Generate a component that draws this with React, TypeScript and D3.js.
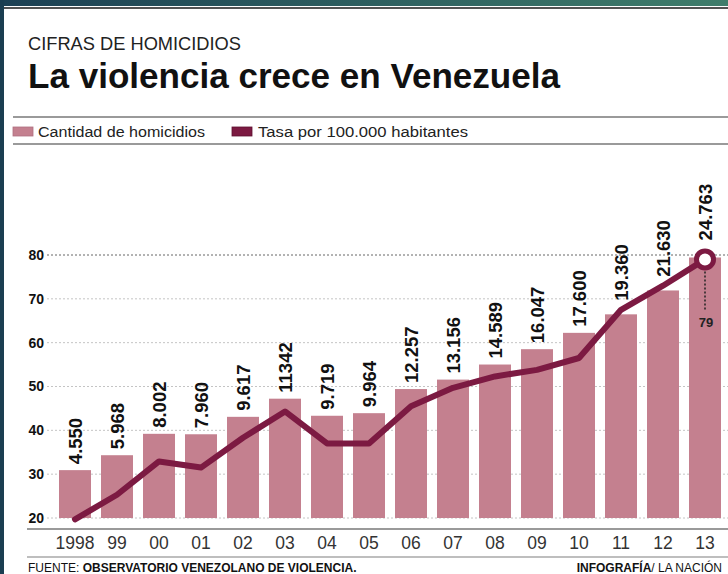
import * as d3 from "d3";

const years = ["1998", "99", "00", "01", "02", "03", "04", "05", "06", "07", "08", "09", "10", "11", "12", "13"];
const homicides = [4550, 5968, 8002, 7960, 9617, 11342, 9719, 9964, 12257, 13156, 14589, 16047, 17600, 19360, 21630, 24763];
const homicideLabels = ["4.550", "5.968", "8.002", "7.960", "9.617", "11342", "9.719", "9.964", "12.257", "13.156", "14.589", "16.047", "17.600", "19.360", "21.630", "24.763"];
const rates = [19.7, 25.3, 32.9, 31.5, 38.3, 44.3, 37, 37, 45.5, 49.7, 52.3, 53.8, 56.5, 67.5, 73, 79];
const rateTicks = [20, 30, 40, 50, 60, 70, 80];

const W = 728;
const H = 574;
const FONT = "'Liberation Sans', Arial, Helvetica, sans-serif";
const BAR = "#c4808f";
const LINE = "#7c1a42";

export default function App() {
  const x = d3.scaleBand<string>().domain(years).range([54, 726]).paddingInner(0.238).paddingOuter(0.119);
  const y = d3.scaleLinear().domain([20, 80]).range([518, 255]);
  const yCount = d3.scaleLinear().domain([0, 25000]).range([518, 255]);
  const cx = (i: number) => (x(years[i]) ?? 0) + x.bandwidth() / 2;

  const linePath = d3
    .line<number>()
    .x((_, i) => cx(i))
    .y((d) => y(d))(rates);

  const last = years.length - 1;

  return (
    <div style={{ position: "absolute", left: 0, top: 0 }}>
      <svg width={W} height={H} style={{ display: "block", fontFamily: FONT }}>
        <defs>
          <linearGradient id="band" x1="0" x2="1" y1="0" y2="0">
            <stop offset="0" stopColor="#1c4054" />
            <stop offset="1" stopColor="#3f7d6b" />
          </linearGradient>
        </defs>
        <rect width={W} height={H} fill="#fff" />
        {/* frame */}
        <rect x={0} y={0} width={W} height={6} fill="url(#band)" />
        <rect x={0} y={0} width={4} height={H} fill="#1b3e51" />
        <line x1={4} x2={W} y1={8} y2={8} stroke="#1a1a1a" strokeWidth={1.5} />

        {/* header */}
        <text x={28} y={50} fontSize={19} fill="#222" textLength={213} lengthAdjust="spacingAndGlyphs">
          CIFRAS DE HOMICIDIOS
        </text>
        <text x={28} y={88} fontSize={35} fontWeight="bold" fill="#111" textLength={532} lengthAdjust="spacingAndGlyphs">
          La violencia crece en Venezuela
        </text>

        {/* legend */}
        <line x1={13} x2={W} y1={117} y2={117} stroke="#9a9a9a" strokeWidth={2} />
        <line x1={13} x2={W} y1={144} y2={144} stroke="#9a9a9a" strokeWidth={2} />
        <rect x={13} y={127} width={20} height={9} fill={BAR} stroke="#b06f7f" strokeWidth={0.8} />
        <text x={38} y={137} fontSize={15.5} fill="#222" textLength={167} lengthAdjust="spacingAndGlyphs">
          Cantidad de homicidios
        </text>
        <rect x={232} y={127} width={20} height={9} fill={LINE} stroke="#5e1030" strokeWidth={0.8} />
        <text x={258} y={137} fontSize={15.5} fill="#222" textLength={210} lengthAdjust="spacingAndGlyphs">
          Tasa por 100.000 habitantes
        </text>

        {/* grid + y ticks */}
        {rateTicks.map((t) => (
          <g key={t}>
            <line
              x1={47}
              x2={W}
              y1={y(t)}
              y2={y(t)}
              stroke={t === 80 ? "#666" : "#c4c4c4"}
              strokeWidth={1}
              strokeDasharray="2,2"
            />
            <text x={44} y={y(t)} dy="0.35em" textAnchor="end" fontSize={14} fontWeight="bold" fill="#111">
              {t}
            </text>
          </g>
        ))}

        {/* bars */}
        {homicides.map((v, i) => (
          <rect
            key={years[i]}
            x={x(years[i])}
            y={yCount(v)}
            width={x.bandwidth()}
            height={yCount(0) - yCount(v)}
            fill={BAR}
          />
        ))}

        {/* rate line */}
        <path d={linePath ?? ""} fill="none" stroke={LINE} strokeWidth={6} strokeLinejoin="round" strokeLinecap="round" />
        <circle cx={cx(last)} cy={y(rates[last])} r={8.5} fill="#fff" stroke={LINE} strokeWidth={5} />
        <line
          x1={cx(last)}
          x2={cx(last)}
          y1={y(rates[last]) + 12}
          y2={y(rates[last]) + 52}
          stroke="#222"
          strokeWidth={1.5}
          strokeDasharray="2,2"
        />
        <text x={cx(last) + 1} y={y(rates[last]) + 68} textAnchor="middle" fontSize={13} fontWeight="bold" fill="#222">
          {rates[last]}
        </text>

        {/* bar value labels */}
        {homicideLabels.map((lab, i) => {
          const top = yCount(homicides[i]);
          const ly = y(rates[i]);
          const base = i === last ? ly - 19 : Math.min(top, ly - 3) - 6;
          return (
            <text
              key={lab}
              transform={`translate(${cx(i) + 7},${base}) rotate(-90)`}
              fontSize={18.5}
              fontWeight="bold"
              fill="#111"
            >
              {lab}
            </text>
          );
        })}

        {/* x axis */}
        <line x1={27} x2={W} y1={529} y2={529} stroke="#9a9a9a" strokeWidth={2} />
        {years.map((yr, i) => (
          <text key={yr} x={cx(i)} y={549} textAnchor="middle" fontSize={17.5} fill="#333">
            {yr}
          </text>
        ))}
        <line x1={27} x2={W} y1={557} y2={557} stroke="#a8a8a8" strokeWidth={1.5} />

        {/* footer */}
        <text x={28} y={572} fontSize={12} fill="#111">
          FUENTE: <tspan fontWeight="bold">OBSERVATORIO VENEZOLANO DE VIOLENCIA.</tspan>
        </text>
        <text x={722} y={572} fontSize={12} fill="#111" textAnchor="end">
          <tspan fontWeight="bold">INFOGRAFÍA</tspan>/ LA NACIÓN
        </text>
      </svg>
    </div>
  );
}
